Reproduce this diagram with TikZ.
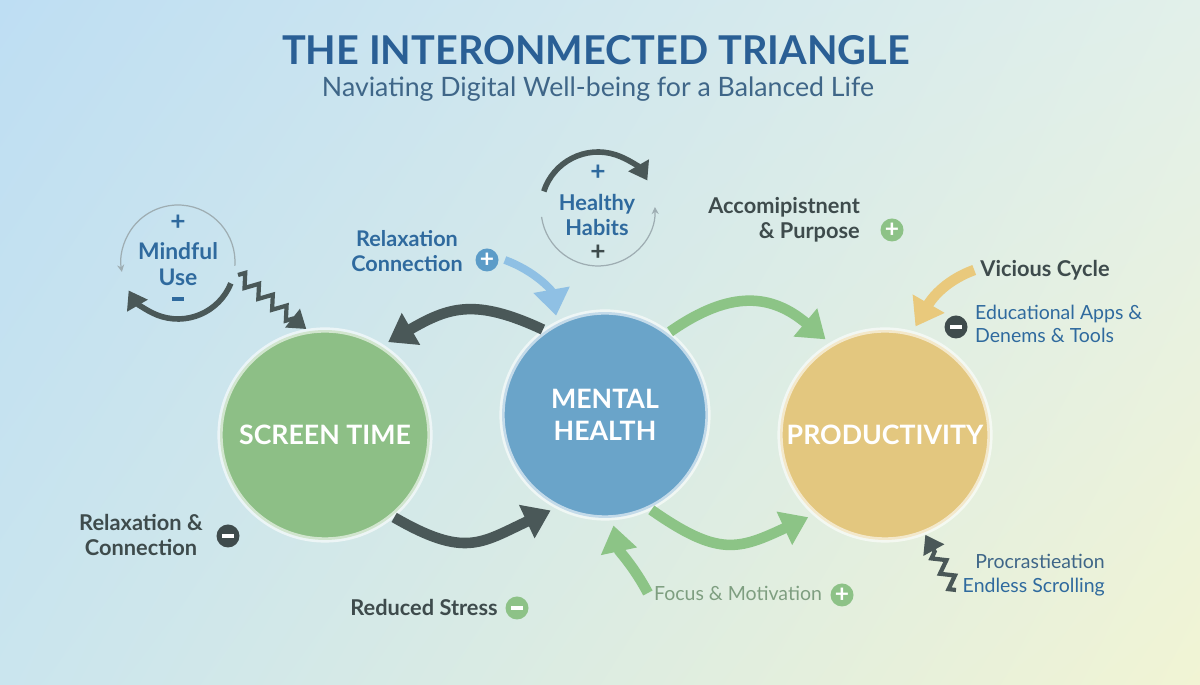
\documentclass[tikz,border=0pt]{standalone}
\usepackage{fontspec}
\setmainfont{Lato}
\usetikzlibrary{arrows.meta,positioning,calc,decorations.pathmorphing,shadings}
\definecolor{TitleBlue}{HTML}{2A5F95}
\definecolor{SubBlue}{HTML}{3F6688}
\definecolor{LabelBlue}{HTML}{2F6A9E}
\definecolor{Slate}{HTML}{3E4B4C}
\definecolor{ArrowDark}{HTML}{4A5858}
\definecolor{HubGreen}{HTML}{8DBF86}
\definecolor{HubBlue}{HTML}{6AA4C9}
\definecolor{HubGold}{HTML}{E3C77F}
\definecolor{ArrowGreen}{HTML}{8CC486}
\definecolor{ArrowBlue}{HTML}{8FC0E4}
\definecolor{ArrowGold}{HTML}{E9C97C}
\definecolor{LoopGray}{HTML}{9EADB2}
\definecolor{SoftGreen}{HTML}{7E9E80}
\definecolor{BadgeBlue}{HTML}{5C9CC8}
\definecolor{BadgeGreen}{HTML}{8DC287}
\definecolor{BadgeDark}{HTML}{3F4B4C}
\definecolor{BgTL}{HTML}{BEDEF3}
\definecolor{BgTR}{HTML}{E2F0EA}
\definecolor{BgBL}{HTML}{CAE5EE}
\definecolor{BgBR}{HTML}{F1F4D4}
\newcommand{\minusbar}{\rule{6.5pt}{2.2pt}}
\tikzset{
  hub/.style={
    circle, minimum size=4.2cm, fill=#1, draw=white, draw opacity=0.6, line width=3pt,
    text=white, align=center, font=\bfseries\fontsize{15.2}{18}\selectfont
  },
  darklabel/.style={font=\bfseries\fontsize{12.4}{14.2}\selectfont, text=Slate, align=center},
  bluelabel/.style={font=\bfseries\fontsize{12.3}{14.2}\selectfont, text=LabelBlue, align=center},
  thinlabel/.style={font=\fontsize{11.1}{13.5}\selectfont, align=left},
  badge/.style={circle, fill=#1, minimum size=0.46cm, inner sep=0pt, text=white, font=\bfseries\fontsize{14}{14}\selectfont},
  bigarrow/.style={#1, line width=6pt, shorten >=3pt, -{Triangle[length=15pt,width=20pt]}},
  zigarrow/.style={ArrowDark, line width=2.4pt, decorate,
    decoration={zigzag, amplitude=3.5pt, segment length=10pt, post length=9pt},
    -{Triangle[length=10pt,width=13pt]}},
  loopthin/.style={LoopGray, line width=0.7pt, -{Stealth[length=4pt,width=4pt]}},
  loopthick/.style={ArrowDark, line width=3.2pt, -{Triangle[length=10pt,width=13pt]}},
}

\begin{document}
\begin{tikzpicture}[x=0.02cm, y=0.02cm]
  % background
  \shade[upper left=BgTL, upper right=BgTR, lower left=BgBL, lower right=BgBR] (0,0) rectangle (1200,685);
  \useasboundingbox (0,0) rectangle (1200,685);

  % title
  \node[font=\bfseries\fontsize{22.6}{26}\selectfont, text=TitleBlue] (title) at (596,635) {THE INTERONMECTED TRIANGLE};
  \node[font=\fontsize{15.2}{18}\selectfont, text=SubBlue] (subtitle) at (598,596) {Naviating Digital Well-being for a Balanced Life};

  % the three hubs
  \node[hub=HubGreen] (st) at (325,250) {SCREEN TIME};
  \node[hub=HubBlue, minimum size=4.12cm] (mh) at (605,270) {MENTAL\\HEALTH};
  \node[hub=HubGold] (pr) at (885,250) {PRODUCTIVITY};

  % mindful use loop
  \node[bluelabel, font=\bfseries\fontsize{13}{14.5}\selectfont] (mu) at (178,421) {Mindful\\Use};
  \node[font=\bfseries\fontsize{15}{15}\selectfont, text=LabelBlue] (muplus) at (178,462) {+};
  \node[text=LabelBlue] (muminus) at (178,386) {\minusbar};
  \draw[loopthin] (178,423) ++(-4:57) arc[start angle=-4, end angle=190, radius=1.14cm];
  \draw[loopthick] (178,423) ++(-22:57) arc[start angle=-22, end angle=-150, radius=1.14cm];

  % healthy habits loop
  \node[bluelabel, font=\bfseries\fontsize{12.4}{14.2}\selectfont] (hh) at (597,470) {Healthy\\Habits};
  \node[font=\bfseries\fontsize{15}{15}\selectfont, text=LabelBlue] (hhplus) at (598,512) {+};
  \node[font=\bfseries\fontsize{15}{15}\selectfont, text=Slate] (hhplustwo) at (598,432) {+};
  \draw[loopthick] (598,476) ++(162:57) arc[start angle=162, end angle=30, radius=1.14cm];
  \draw[loopthin] (598,476) ++(188:57) arc[start angle=188, end angle=362, radius=1.14cm];

  % labels
  \node[bluelabel] (rc) at (407,434) {Relaxation\\Connection};
  \node[badge=BadgeBlue] (rcplus) at (487,425) {+};
  \node[darklabel, anchor=east, align=right] (acc) at (866,465) {Accomipistnent\\\& Purpose};
  \node[badge=BadgeGreen] (accplus) at (892,455) {+};
  \node[darklabel] (vc) at (1045,415) {Vicious Cycle};
  \node[thinlabel, text=LabelBlue, anchor=west] (edu) at (969,361) {Educational Apps \&\\Denems \& Tools};
  \node[badge=BadgeDark] (eduminus) at (956,358) {\minusbar};
  \node[darklabel] (rlx) at (141,150) {Relaxation \&\\Connection};
  \node[badge=BadgeDark] (rlxminus) at (228,149) {\minusbar};
  \node[darklabel] (rs) at (424,77) {Reduced Stress};
  \node[badge=BadgeGreen] (rsminus) at (517,77) {\minusbar};
  \node[thinlabel, text=SoftGreen] (fm) at (738,92) {Focus \& Motivation};
  \node[badge=BadgeGreen] (fmplus) at (842,90) {+};
  \node[thinlabel, text=SubBlue, anchor=east, align=right] (proc) at (1111,110) {Procrastieation\\\textcolor{LabelBlue}{Endless Scrolling}};

  % free ends of the zigzags
  \coordinate (mindzag) at (238,410);
  \coordinate (proczag) at (956,95);

  % connectors
  \draw[bigarrow=ArrowDark] (mh.126) to[out=155, in=30, looseness=1.2] (st.57);
  \draw[bigarrow=ArrowBlue, line width=4.5pt] (rcplus.east) ++(6,0) to[out=-20, in=100] (mh.117);
  \draw[bigarrow=ArrowGreen] (mh.52) to[out=35, in=140, looseness=1.2] (pr.121);
  \draw[bigarrow=ArrowDark] (st.-50) to[out=-30, in=205, looseness=1.3] (mh.-118);
  \draw[bigarrow=ArrowGreen] (mh.-64) to[out=-35, in=205, looseness=1.3] (pr.-132);
  \draw[bigarrow=ArrowGreen] (fm.west) to[out=118, in=-78] (mh.-86);
  \draw[bigarrow=ArrowGold] (vc.west) to[out=200, in=60] (pr.75);
  \draw[zigarrow] (mindzag) -- (st.100);
  \draw[zigarrow] (proczag) -- (pr.-68);
\end{tikzpicture}
\end{document}
